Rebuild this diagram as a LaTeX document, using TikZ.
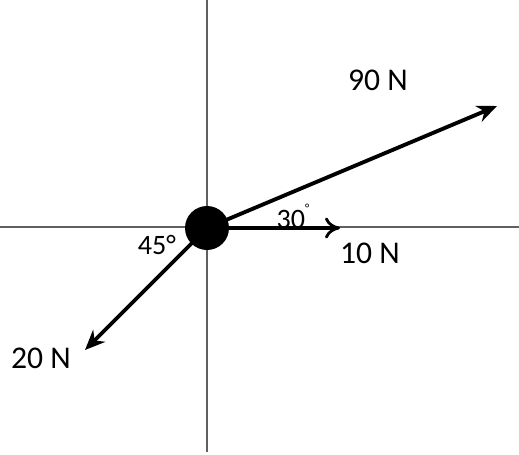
\documentclass[tikz,border=0pt]{standalone}
\usepackage{fontspec}
\setmainfont{Carlito}
\usetikzlibrary{positioning,arrows.meta}

\begin{document}
\begin{tikzpicture}[
  x=0.02cm, y=0.02cm,
  axis/.style={draw=gray!75!black, line width=0.9pt},
  force/.style={-{Stealth[length=4mm, width=3.4mm]}, line width=2.2pt},
  openforce/.style={-{To[length=3mm, width=4.2mm, line width=1.6pt]}, line width=2.2pt},
  body/.style={circle, fill=black, inner sep=0pt, minimum size=0.88cm},
  lbl/.style={font=\fontsize{18}{20}\selectfont},
  ang/.style={font=\fontsize{16}{18}\selectfont},
]
\useasboundingbox (-207,-226) rectangle (312,228);

% Axes
\coordinate (xl) at (-207,1);
\coordinate (xr) at (312,1);
\coordinate (yt) at (0,228);
\coordinate (yb) at (0,-224);
\draw[axis] (xl) -- (xr);
\draw[axis] (yt) -- (yb);

% Body
\node[body] (m) at (0,0) {};

% Forces
\coordinate (f90) at (290,122);
\coordinate (f10) at (133,0);
\coordinate (f20) at (-122,-122);
\draw[force] (m.center) -- (f90);
\draw[openforce] (m.center) -- (f10);
\draw[force] (m.center) -- (f20);

% Labels
\node[lbl] (l90) at (171,148) {90 N};
\node[lbl] (l10) at (163,-25) {10 N};
\node[lbl] (l20) at (-166,-130) {20 N};
\node[ang] (a30) at (86,12) {30\raisebox{1.2ex}{\fontsize{7}{8}\selectfont°}};
\node[ang] (a45) at (-50,-17) {45°};

\end{tikzpicture}
\end{document}
